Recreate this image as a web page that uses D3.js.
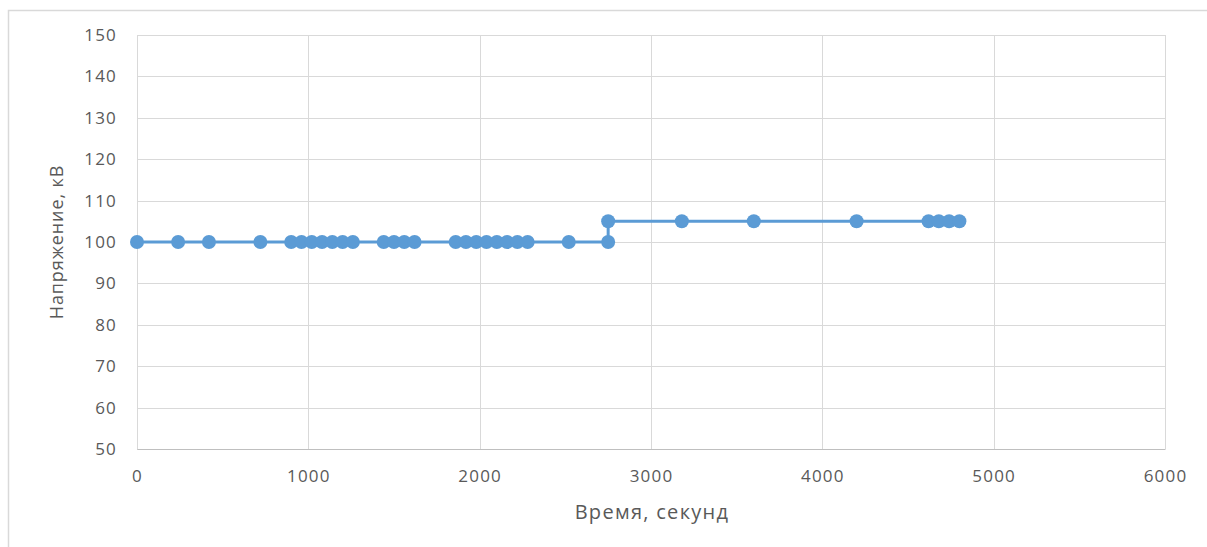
<!DOCTYPE html>
<html><head><meta charset="utf-8">
<script src="https://cdn.jsdelivr.net/npm/d3@7"></script>
<style>body{margin:0;background:#fff;} text{font-family:"Open Sans",sans-serif;fill:#595959;}</style>
</head><body>
<svg id="c" width="1207" height="547"></svg>
<script>
const timeSec = [0,240,420,720,900,960,1020,1080,1140,1200,1260,1440,1500,1560,1620,1860,1920,1980,2040,2100,2160,2220,2280,2520,2750,2750,3180,3600,4200,4620,4680,4740,4800];
const voltageKV = [100,100,100,100,100,100,100,100,100,100,100,100,100,100,100,100,100,100,100,100,100,100,100,100,100,105,105,105,105,105,105,105,105];
const xTicks = [0,1000,2000,3000,4000,5000,6000];
const yTicks = [50,60,70,80,90,100,110,120,130,140,150];
const xTitle = "Время, секунд";
const yTitle = "Напряжение, кВ";

const svg = d3.select("#c");
const L=137, R=1165, T=35, B=449;
const x = d3.scaleLinear().domain([0,6000]).range([L,R]);
const y = d3.scaleLinear().domain([50,150]).range([B,T]);

// outer border
svg.append("path").attr("d",`M8.5,547 V10.5 H1207`).attr("fill","none").attr("stroke","#d9d9d9").attr("stroke-width",1.5);

// grid
svg.append("g").selectAll("line").data(yTicks).join("line")
  .attr("x1",L).attr("x2",R).attr("y1",d=>Math.round(y(d))+0.5).attr("y2",d=>Math.round(y(d))+0.5)
  .attr("stroke","#d9d9d9").attr("stroke-width",1);
svg.append("g").selectAll("line").data(xTicks).join("line")
  .attr("x1",d=>Math.round(x(d))+0.5).attr("x2",d=>Math.round(x(d))+0.5).attr("y1",T).attr("y2",B)
  .attr("stroke","#d9d9d9").attr("stroke-width",1);

// axes
const xAxis = svg.append("g").attr("transform",`translate(0,${B})`)
  .call(d3.axisBottom(x).tickValues(xTicks).tickSize(0).tickPadding(0).tickFormat(d3.format("d")));
xAxis.select(".domain").attr("stroke","#bfbfbf");
xAxis.selectAll(".tick text").attr("dy",null).attr("y",33);
const yAxis = svg.append("g").attr("transform",`translate(${L},0)`)
  .call(d3.axisLeft(y).tickValues(yTicks).tickSize(0).tickPadding(20).tickFormat(d3.format("d")));
yAxis.select(".domain").remove();
svg.selectAll(".tick text").style("font-family","'Open Sans',sans-serif").style("font-size","17px")
  .style("letter-spacing","1.2px").attr("fill","#595959");

// line
const pts = timeSec.map((t,i)=>[t,voltageKV[i]]);
svg.append("path").datum(pts)
  .attr("d",d3.line().x(d=>x(d[0])).y(d=>y(d[1])))
  .attr("fill","none").attr("stroke","#5b9bd5").attr("stroke-width",3);
svg.append("g").selectAll("circle").data(pts).join("circle")
  .attr("cx",d=>x(d[0])).attr("cy",d=>y(d[1])).attr("r",7).attr("fill","#5b9bd5");

// titles
svg.append("text").attr("x",652).attr("y",519).attr("text-anchor","middle")
  .style("font-size","20px").style("letter-spacing","1.3px").text(xTitle);
svg.append("text").attr("transform","translate(63,242) rotate(-90)").attr("text-anchor","middle")
  .style("font-size","18px").style("letter-spacing","0.9px").text(yTitle);
</script>
</body></html>
